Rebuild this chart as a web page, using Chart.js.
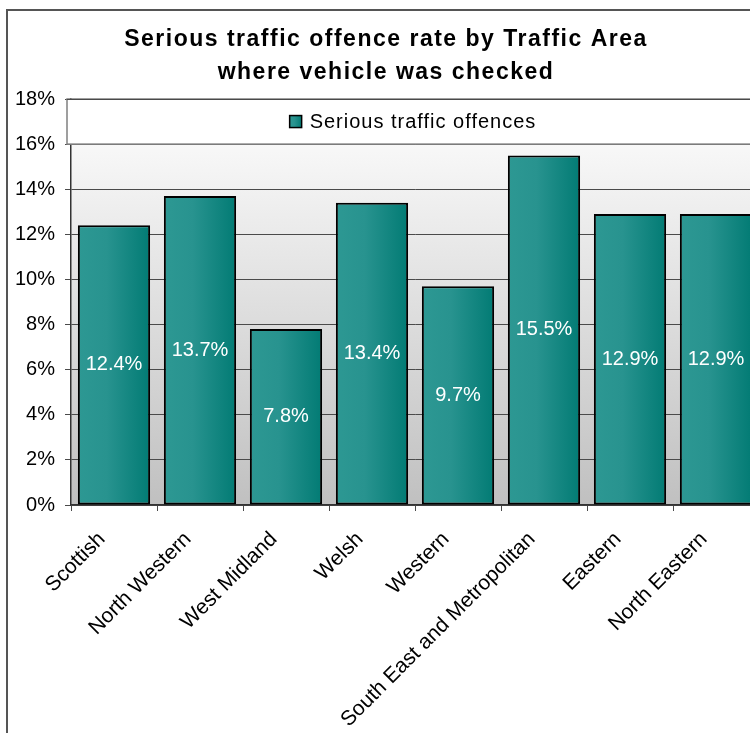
<!DOCTYPE html>
<html>
<head>
<meta charset="utf-8">
<script src="https://cdn.jsdelivr.net/npm/chart.js@4/dist/chart.umd.min.js"></script>
<style>
    html, body { margin: 0; padding: 0; background: #fff; overflow: hidden; }
    body { width: 750px; height: 733px; position: relative; }
    .frame {
        position: absolute; left: 6px; top: 9px; width: 800px; height: 800px;
        border-left: 2px solid #555; border-top: 2px solid #555;
    }
    #chart { position: absolute; left: 0; top: 0; }
</style>
</head>
<body>
<div class="frame"></div>
<canvas id="chart" width="770" height="733"></canvas>
<script>
const titleLines = ["Serious traffic offence rate by Traffic Area", "where vehicle was checked"];
const seriesName = "Serious traffic offences";
const areas = ["Scottish", "North Western", "West Midland", "Welsh", "Western", "South East and Metropolitan", "Eastern", "North Eastern"];
const offenceRates = [12.4, 13.7, 7.8, 13.4, 9.7, 15.5, 12.9, 12.9];
const yMin = 0, yMax = 18, yStep = 2;

const FONT = "'Liberation Sans', Arial, sans-serif";
const barPct = 0.84;

function tealGradient(ctx, x0, x1) {
    const g = ctx.createLinearGradient(x0, 0, x1, 0);
    g.addColorStop(0, "#2d9893");
    g.addColorStop(0.4, "#28938f");
    g.addColorStop(1, "#027b74");
    return g;
}

function barFill(c) {
    const chart = c.chart;
    const xs = chart.scales.x;
    if (!xs || c.dataIndex === undefined) return "#26918c";
    const cx = xs.getPixelForValue(c.dataIndex);
    const half = xs.width / areas.length * barPct / 2;
    if (!isFinite(cx) || !isFinite(half) || half <= 0) return "#26918c";
    return tealGradient(chart.ctx, cx - half, cx + half);
}

// plot area background, white at the top fading to grey
const plotBg = {
    id: "plotBg",
    beforeDraw(chart) {
        const { ctx, chartArea: a } = chart;
        const g = ctx.createLinearGradient(0, a.top, 0, a.bottom);
        g.addColorStop(0, "#ffffff");
        g.addColorStop(1, "#c0c0c0");
        ctx.save();
        ctx.fillStyle = g;
        ctx.fillRect(a.left, a.top, a.right - a.left, a.bottom - a.top);
        ctx.restore();
    }
};

// title drawn by hand so the letter spacing can match
const headline = {
    id: "headline",
    afterDraw(chart) {
        const ctx = chart.ctx;
        ctx.save();
        ctx.font = "bold 23px " + FONT;
        ctx.letterSpacing = "1.5px";
        ctx.fillStyle = "#000";
        ctx.textAlign = "center";
        ctx.textBaseline = "alphabetic";
        ctx.fillText(titleLines[0], 386, 46);
        ctx.fillText(titleLines[1], 386, 79);
        ctx.restore();
    }
};

// legend sits inside the plot, between the two top gridlines
const insideLegend = {
    id: "insideLegend",
    afterDraw(chart) {
        const { ctx, chartArea: a, scales: { y } } = chart;
        const top = y.getPixelForValue(yMax);
        const bottom = y.getPixelForValue(yMax - yStep);
        const left = a.left - 4;
        ctx.save();
        ctx.fillStyle = "#fff";
        ctx.fillRect(left, top, a.right - left + 20, bottom - top);
        ctx.strokeStyle = "#808080";
        ctx.lineWidth = 1.5;
        ctx.strokeRect(left, top, a.right - left + 20, bottom - top);
        ctx.strokeStyle = "#4a4a4a";
        ctx.lineWidth = 1;
        ctx.beginPath();
        ctx.moveTo(left, top + 0.5);
        ctx.lineTo(a.right + 20, top + 0.5);
        ctx.stroke();

        ctx.font = "20px " + FONT;
        ctx.letterSpacing = "1px";
        const label = chart.data.datasets[0].label;
        const tw = ctx.measureText(label).width;
        const box = 12, gap = 8;
        const total = box + gap + tw;
        const cx = (left + 759) / 2;
        const x0 = cx - total / 2;
        const cy = (top + bottom) / 2;
        ctx.fillStyle = tealGradient(ctx, x0, x0 + box);
        ctx.fillRect(x0, cy - box / 2, box, box);
        ctx.strokeStyle = "#000";
        ctx.lineWidth = 1.5;
        ctx.strokeRect(x0, cy - box / 2, box, box);
        ctx.fillStyle = "#000";
        ctx.textAlign = "left";
        ctx.textBaseline = "middle";
        ctx.fillText(label, x0 + box + gap, cy + 1);
        ctx.restore();
    }
};

// white value labels in the middle of each bar
const valueLabels = {
    id: "valueLabels",
    afterDatasetsDraw(chart) {
        const ctx = chart.ctx;
        const meta = chart.getDatasetMeta(0);
        ctx.save();
        ctx.font = "20px " + FONT;
        ctx.fillStyle = "#fff";
        ctx.textAlign = "center";
        ctx.textBaseline = "middle";
        meta.data.forEach((bar, i) => {
            const v = chart.data.datasets[0].data[i];
            ctx.fillText(v.toFixed(1) + "%", bar.x, (bar.y + bar.base) / 2);
        });
        ctx.restore();
    }
};

new Chart(document.getElementById("chart"), {
    type: "bar",
    data: {
        labels: areas,
        datasets: [{
            label: seriesName,
            data: offenceRates,
            backgroundColor: barFill,
            borderColor: "#000",
            borderWidth: 2,
            borderSkipped: false,
            barPercentage: barPct,
            categoryPercentage: 1
        }]
    },
    options: {
        responsive: false,
        animation: false,
        layout: { padding: { top: 99, right: 11, left: 0, bottom: 0 } },
        plugins: {
            legend: { display: false },
            title: { display: false },
            tooltip: { enabled: false }
        },
        scales: {
            x: {
                grid: { drawOnChartArea: false, drawTicks: true, tickLength: 6, color: "#4a4a4a", offset: true },
                border: { color: "#333", width: 1.5 },
                ticks: {
                    color: "#000",
                    font: { family: FONT, size: 21 },
                    minRotation: 45,
                    maxRotation: 45,
                    padding: 16,
                    labelOffset: -12,
                    autoSkip: false
                },
                afterFit: s => { s.height = 733 - 505; }
            },
            y: {
                min: yMin,
                max: yMax,
                grid: { color: "#4a4a4a", tickLength: 6 },
                border: { color: "#333", width: 1.5 },
                ticks: {
                    stepSize: yStep,
                    color: "#000",
                    font: { family: FONT, size: 20 },
                    padding: 10,
                    callback: v => v + "%"
                },
                afterFit: s => { s.width = 71; }
            }
        }
    },
    plugins: [plotBg, valueLabels, insideLegend, headline]
});
</script>
</body>
</html>
